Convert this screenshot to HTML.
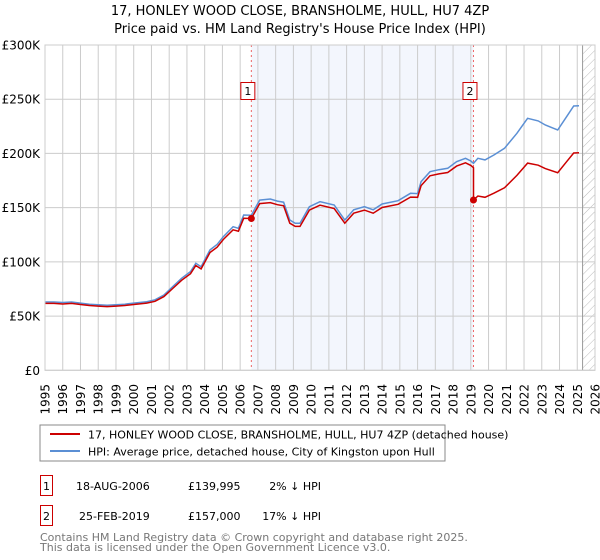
<!DOCTYPE html>
<html><head><meta charset="utf-8"><style>
body{margin:0;background:#fff;font-family:"Liberation Sans","DejaVu Sans",sans-serif}
svg{display:block}
text{font-family:"DejaVu Sans","Liberation Sans",sans-serif}
</style></head><body>
<svg id="chart" width="600" height="560" viewBox="0 0 600 560" xmlns="http://www.w3.org/2000/svg">
<defs><pattern id="hatch" width="6" height="6" patternUnits="userSpaceOnUse" patternTransform="rotate(45)"><line x1="0" y1="0" x2="0" y2="6" stroke="#bbb" stroke-width="1"/></pattern></defs>
<text x="300" y="15" text-anchor="middle" font-size="13" fill="#000">17, HONLEY WOOD CLOSE, BRANSHOLME, HULL, HU7 4ZP</text>
<text x="300" y="33" text-anchor="middle" font-size="13" fill="#000">Price paid vs. HM Land Registry's House Price Index (HPI)</text>
<g id="plot"></g>
<rect x="40" y="425" width="405" height="36" fill="#fff" stroke="#888"/>
<line x1="50" y1="434" x2="80" y2="434" stroke="#cc0000" stroke-width="2"/>
<text x="88" y="438.5" font-size="11">17, HONLEY WOOD CLOSE, BRANSHOLME, HULL, HU7 4ZP (detached house)</text>
<line x1="50" y1="451" x2="80" y2="451" stroke="#5b8fd4" stroke-width="2"/>
<text x="88" y="455.5" font-size="11">HPI: Average price, detached house, City of Kingston upon Hull</text>
<rect x="40.5" y="475.5" width="12" height="20" fill="#fff" stroke="#cc0000"/>
<text x="46.5" y="490" text-anchor="middle" font-size="11">1</text>
<text x="76" y="490" font-size="11">18-AUG-2006</text>
<text x="188" y="490" font-size="11">£139,995</text>
<text x="321" y="490" text-anchor="end" font-size="11">2% ↓ HPI</text>
<rect x="40.5" y="505.5" width="12" height="20" fill="#fff" stroke="#cc0000"/>
<text x="46.5" y="520" text-anchor="middle" font-size="11">2</text>
<text x="79" y="520" font-size="11">25-FEB-2019</text>
<text x="188" y="520" font-size="11">£157,000</text>
<text x="321" y="520" text-anchor="end" font-size="11">17% ↓ HPI</text>
<text x="40" y="541" font-size="11" fill="#777">Contains HM Land Registry data © Crown copyright and database right 2025.</text>
<text x="40" y="551" font-size="11" fill="#777">This data is licensed under the Open Government Licence v3.0.</text>
</svg>
<script>
const hpiYears=[1995,1995.5,1996,1996.5,1997,1997.5,1998,1998.5,1999,1999.5,2000,2000.73,2001.2,2001.7,2002.2,2002.7,2003.2,2003.5,2003.8,2004.3,2004.7,2005.05,2005.6,2005.9,2006.2,2006.63,2007.1,2007.7,2008.1,2008.45,2008.8,2009.1,2009.37,2009.9,2010.5,2011.3,2011.9,2012.4,2013.0,2013.5,2014.0,2014.9,2015.6,2016.0,2016.2,2016.7,2017.2,2017.7,2018.2,2018.7,2019.0,2019.15,2019.4,2019.8,2020.3,2020.9,2021.6,2022.2,2022.8,2023.2,2023.9,2024.4,2024.8,2025.1];
const hpiValues=[63,63,62.5,63,62,61,60.5,60,60.5,61,62,63.3,65,69.4,77.1,84.8,91,98.7,95.5,111,116,123.2,132.4,131,143.2,143,157,158,156,155,138.6,135.6,135.6,150.9,155.5,152.4,138.6,148,150.9,148,153.4,156.4,163.2,163,174,183.2,185,186.3,192.4,195.5,193,190.9,195.5,194,198.6,204.7,218.6,232.4,230,226.2,221.6,233.9,243.7,244];
const sales=[{t:2006.63,v:139.995,label:"1"},{t:2019.15,v:157,label:"2"}];
const yTicks=[0,50,100,150,200,250,300];
const yTickLabels=["£0","£50K","£100K","£150K","£200K","£250K","£300K"];
const xTicks=[1995,1996,1997,1998,1999,2000,2001,2002,2003,2004,2005,2006,2007,2008,2009,2010,2011,2012,2013,2014,2015,2016,2017,2018,2019,2020,2021,2022,2023,2024,2025,2026];

const L=45,R=595,T=45,B=370.3;
const X=t=>L+(t-1995)/(2026-1995)*(R-L);
const Y=v=>B-v/300*(B-T);
const NS="http://www.w3.org/2000/svg";
const plot=document.getElementById('plot');
function mk(tag,attrs){const e=document.createElementNS(NS,tag);for(const k in attrs)e.setAttribute(k,attrs[k]);plot.appendChild(e);return e;}

let e=mk('rect',{x:X(sales[0].t),y:T,width:X(sales[1].t)-X(sales[0].t),height:B-T,fill:'#f3f6fd'});


e=mk('rect',{x:X(2025.3),y:T,width:R-X(2025.3),height:B-T,fill:'url(#hatch)'});


xTicks.forEach((t,i)=>{
  let g=mk('line',{x1:X(t),y1:T,x2:X(t),y2:B,stroke:'#cccccc','stroke-width':1});
  
  
  let tx=mk('text',{x:0,y:0,'font-size':12,'text-anchor':'end',transform:`translate(${X(t)+4.5},384) rotate(-90)`});
  tx.textContent=t;
  
  
});
yTicks.forEach((v,i)=>{
  let g=mk('line',{x1:L,y1:Y(v),x2:R,y2:Y(v),stroke:'#cccccc','stroke-width':1});
  
  
  let tx=mk('text',{x:40,y:Y(v)+4.5,'font-size':12,'text-anchor':'end'});
  tx.textContent=yTickLabels[i];
  
  
});
e=mk('line',{x1:X(2025.3),y1:T,x2:X(2025.3),y2:B,stroke:'#999','stroke-width':1});


sales.forEach(s=>{
  let l=mk('line',{x1:X(s.t),y1:T,x2:X(s.t),y2:B,stroke:'#e66','stroke-width':1,'stroke-dasharray':'2,3'});
  
  
});
const hp=hpiYears.map((t,i)=>X(t).toFixed(1)+','+Y(hpiValues[i]).toFixed(1)).join(' ');
e=mk('polyline',{points:hp,fill:'none',stroke:'#5b8fd4','stroke-width':1.5});


function hpiAt(t){for(let i=1;i<hpiYears.length;i++){if(t<=hpiYears[i]){const a=hpiYears[i-1],b=hpiYears[i];return hpiValues[i-1]+(hpiValues[i]-hpiValues[i-1])*(t-a)/(b-a);}}return hpiValues[hpiValues.length-1];}
const r1=sales[0].v/hpiAt(sales[0].t), r2=sales[1].v/hpiAt(sales[1].t);
const pp=[];
hpiYears.forEach((t,i)=>{
  if(t<sales[1].t) pp.push([t,hpiValues[i]*r1]);
  else if(t>sales[1].t) pp.push([t,hpiValues[i]*r2]);
  if(i+1<hpiYears.length && t<sales[1].t && hpiYears[i+1]>=sales[1].t){pp.push([sales[1].t,hpiAt(sales[1].t)*r1]);pp.push([sales[1].t,sales[1].v]);}
});
e=mk('polyline',{points:pp.map(p=>X(p[0]).toFixed(1)+','+Y(p[1]).toFixed(1)).join(' '),fill:'none',stroke:'#cc0000','stroke-width':1.5});


sales.forEach(s=>{
  let c=mk('circle',{cx:X(s.t),cy:Y(s.v),r:3.5,fill:'#cc0000'});
  
  
  let b=mk('rect',{x:X(s.t)-10.5,y:82.5,width:14,height:17,fill:'#fff',stroke:'#cc0000'});
  
  
  let tx=mk('text',{x:X(s.t)-3.5,y:95,'font-size':11,'text-anchor':'middle'});
  tx.textContent=s.label;
  
  
});
e=mk('rect',{x:L,y:T,width:R-L,height:B-T,fill:'none',stroke:'#cccccc'});


</script>
</body></html>
